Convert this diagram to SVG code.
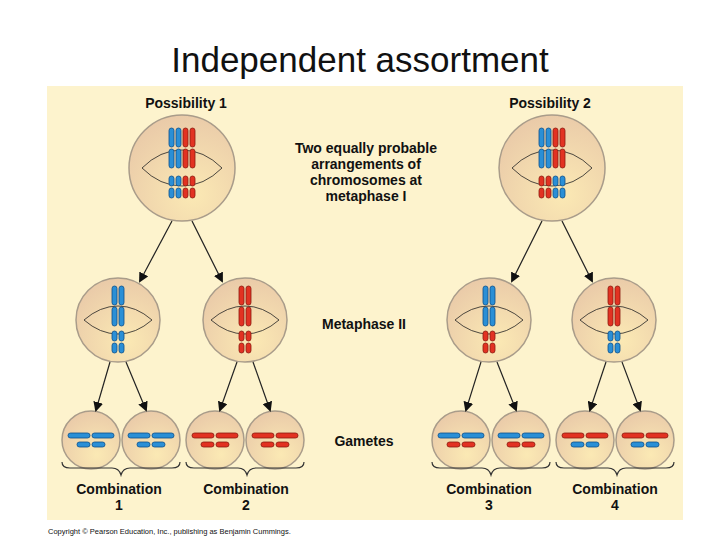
<svg xmlns="http://www.w3.org/2000/svg" width="720" height="540" viewBox="0 0 720 540">
<style>
.t{font-family:"Liberation Sans",Arial,sans-serif;font-weight:bold;fill:#111;font-size:14px}
.cell{fill:url(#cg);stroke:#a99c8a;stroke-width:1.5}
.sp{fill:none;stroke:#222;stroke-width:0.8}
.ar{stroke:#222;stroke-width:1.2;fill:none;marker-end:url(#ah)}
.br{fill:none;stroke:#333;stroke-width:1.2}
.b{fill:#2a8fd6;stroke:#0d4f8a;stroke-width:0.8}
.r{fill:#e23222;stroke:#8a1a10;stroke-width:0.8}
</style>
<defs>
<radialGradient id="cg" cx="0.6" cy="0.75" r="0.8"><stop offset="0" stop-color="#fbe9b4"/><stop offset="1" stop-color="#e9c9a8"/></radialGradient>
<marker id="ah" markerWidth="10" markerHeight="10" refX="8" refY="5" orient="auto" markerUnits="userSpaceOnUse"><path d="M0,0 L10,5 L0,10 Z" fill="#111"/></marker>
<g id="vl"><rect x="-6" y="-20" width="5" height="19" rx="2.5"/><rect x="1" y="-20" width="5" height="19" rx="2.5"/><rect x="-6" y="1" width="5" height="19" rx="2.5"/><rect x="1" y="1" width="5" height="19" rx="2.5"/></g>
<g id="vs"><rect x="-6" y="-11" width="5" height="10" rx="2.5"/><rect x="1" y="-11" width="5" height="10" rx="2.5"/><rect x="-6" y="1" width="5" height="10" rx="2.5"/><rect x="1" y="1" width="5" height="10" rx="2.5"/></g>
<g id="hl"><rect x="-23" y="-7" width="22" height="5" rx="2.5"/><rect x="1" y="-7" width="22" height="5" rx="2.5"/></g>
<g id="hs"><rect x="-14" y="2" width="13" height="5" rx="2.5"/><rect x="1" y="2" width="13" height="5" rx="2.5"/></g>
</defs>
<rect width="720" height="540" fill="#fff"/>
<text x="360" y="72" text-anchor="middle" font-family="Liberation Sans,Arial,sans-serif" font-size="35" fill="#111">Independent assortment</text>
<rect x="47" y="86" width="636" height="434" fill="#fdf3cd"/>
<g id="labels">
<text class="t" x="186" y="108" text-anchor="middle">Possibility 1</text>
<text class="t" x="550" y="108" text-anchor="middle">Possibility 2</text>
<text class="t" x="366" y="153" text-anchor="middle">Two equally probable</text>
<text class="t" x="366" y="169" text-anchor="middle">arrangements of</text>
<text class="t" x="366" y="185" text-anchor="middle">chromosomes at</text>
<text class="t" x="366" y="201" text-anchor="middle">metaphase I</text>
<text class="t" x="364" y="329" text-anchor="middle">Metaphase II</text>
<text class="t" x="364" y="446" text-anchor="middle">Gametes</text>
<text class="t" x="119" y="494" text-anchor="middle">Combination</text><text class="t" x="119" y="510" text-anchor="middle">1</text>
<text class="t" x="246" y="494" text-anchor="middle">Combination</text><text class="t" x="246" y="510" text-anchor="middle">2</text>
<text class="t" x="489" y="494" text-anchor="middle">Combination</text><text class="t" x="489" y="510" text-anchor="middle">3</text>
<text class="t" x="615" y="494" text-anchor="middle">Combination</text><text class="t" x="615" y="510" text-anchor="middle">4</text>
<text x="48" y="534" font-family="Liberation Sans,Arial,sans-serif" font-size="7.5" fill="#111">Copyright © Pearson Education, Inc., publishing as Benjamin Cummings.</text>
</g>
<g id="p1"><circle class="cell" cx="182" cy="168" r="53"/>
<path class="sp" d="M142,168 Q160,150 182,150 Q204,150 222,168 M142,168 Q160,186 182,186 Q204,186 222,168"/>
<use href="#vl" class="b" x="175" y="148"/><use href="#vl" class="r" x="189" y="148"/>
<use href="#vs" class="b" x="175" y="187"/><use href="#vs" class="r" x="189" y="187"/></g>
<g id="p2"><circle class="cell" cx="552" cy="168" r="53"/>
<path class="sp" d="M512,168 Q530,150 552,150 Q574,150 592,168 M512,168 Q530,186 552,186 Q574,186 592,168"/>
<use href="#vl" class="b" x="545" y="148"/><use href="#vl" class="r" x="559" y="148"/>
<use href="#vs" class="r" x="545" y="187"/><use href="#vs" class="b" x="559" y="187"/></g>
<g id="m1"><circle class="cell" cx="118" cy="320" r="42"/><path class="sp" d="M84,320 Q100,306 118,306 Q136,306 152,320 M84,320 Q100,334 118,334 Q136,334 152,320"/>
<use href="#vl" class="b" x="118" y="306"/><use href="#vs" class="b" x="118" y="342"/></g>
<g id="m2"><circle class="cell" cx="245" cy="320" r="42"/><path class="sp" d="M211,320 Q227,306 245,306 Q263,306 279,320 M211,320 Q227,334 245,334 Q263,334 279,320"/>
<use href="#vl" class="r" x="245" y="306"/><use href="#vs" class="r" x="245" y="342"/></g>
<g id="m3"><circle class="cell" cx="489" cy="320" r="42"/><path class="sp" d="M455,320 Q471,306 489,306 Q507,306 523,320 M455,320 Q471,334 489,334 Q507,334 523,320"/>
<use href="#vl" class="b" x="489" y="306"/><use href="#vs" class="r" x="489" y="342"/></g>
<g id="m4"><circle class="cell" cx="614" cy="320" r="42"/><path class="sp" d="M580,320 Q596,306 614,306 Q632,306 648,320 M580,320 Q596,334 614,334 Q632,334 648,320"/>
<use href="#vl" class="r" x="614" y="306"/><use href="#vs" class="b" x="614" y="342"/></g>
<g id="g1"><circle class="cell" cx="91" cy="440" r="29"/><use href="#hl" class="b" x="91" y="440"/><use href="#hs" class="b" x="91" y="440"/></g>
<g id="g2"><circle class="cell" cx="151" cy="440" r="29"/><use href="#hl" class="b" x="151" y="440"/><use href="#hs" class="b" x="151" y="440"/></g>
<g id="g3"><circle class="cell" cx="215" cy="440" r="29"/><use href="#hl" class="r" x="215" y="440"/><use href="#hs" class="r" x="215" y="440"/></g>
<g id="g4"><circle class="cell" cx="275" cy="440" r="29"/><use href="#hl" class="r" x="275" y="440"/><use href="#hs" class="r" x="275" y="440"/></g>
<g id="g5"><circle class="cell" cx="461" cy="440" r="29"/><use href="#hl" class="b" x="461" y="440"/><use href="#hs" class="r" x="461" y="440"/></g>
<g id="g6"><circle class="cell" cx="521" cy="440" r="29"/><use href="#hl" class="b" x="521" y="440"/><use href="#hs" class="r" x="521" y="440"/></g>
<g id="g7"><circle class="cell" cx="585" cy="440" r="29"/><use href="#hl" class="r" x="585" y="440"/><use href="#hs" class="b" x="585" y="440"/></g>
<g id="g8"><circle class="cell" cx="645" cy="440" r="29"/><use href="#hl" class="r" x="645" y="440"/><use href="#hs" class="b" x="645" y="440"/></g>
<g id="connectors">
<path class="ar" d="M172,221 L140,281"/><path class="ar" d="M192,221 L222,281"/>
<path class="ar" d="M542,221 L512,281"/><path class="ar" d="M562,221 L592,281"/>
<path class="ar" d="M110,362 L96,410"/><path class="ar" d="M126,362 L146,410"/>
<path class="ar" d="M237,362 L220,410"/><path class="ar" d="M253,362 L270,410"/>
<path class="ar" d="M481,362 L466,410"/><path class="ar" d="M497,362 L516,410"/>
<path class="ar" d="M606,362 L590,410"/><path class="ar" d="M622,362 L640,410"/>
<path class="br" d="M62,462 Q62,468 70,468 L112,468 Q119,468 121,475 Q123,468 130,468 L172,468 Q180,468 180,462"/>
<path class="br" d="M186,462 Q186,468 194,468 L238,468 Q245,468 247,475 Q249,468 256,468 L296,468 Q304,468 304,462"/>
<path class="br" d="M432,462 Q432,468 440,468 L482,468 Q489,468 491,475 Q493,468 500,468 L542,468 Q550,468 550,462"/>
<path class="br" d="M556,462 Q556,468 564,468 L608,468 Q615,468 617,475 Q619,468 626,468 L666,468 Q674,468 674,462"/>
</g>
</svg>
